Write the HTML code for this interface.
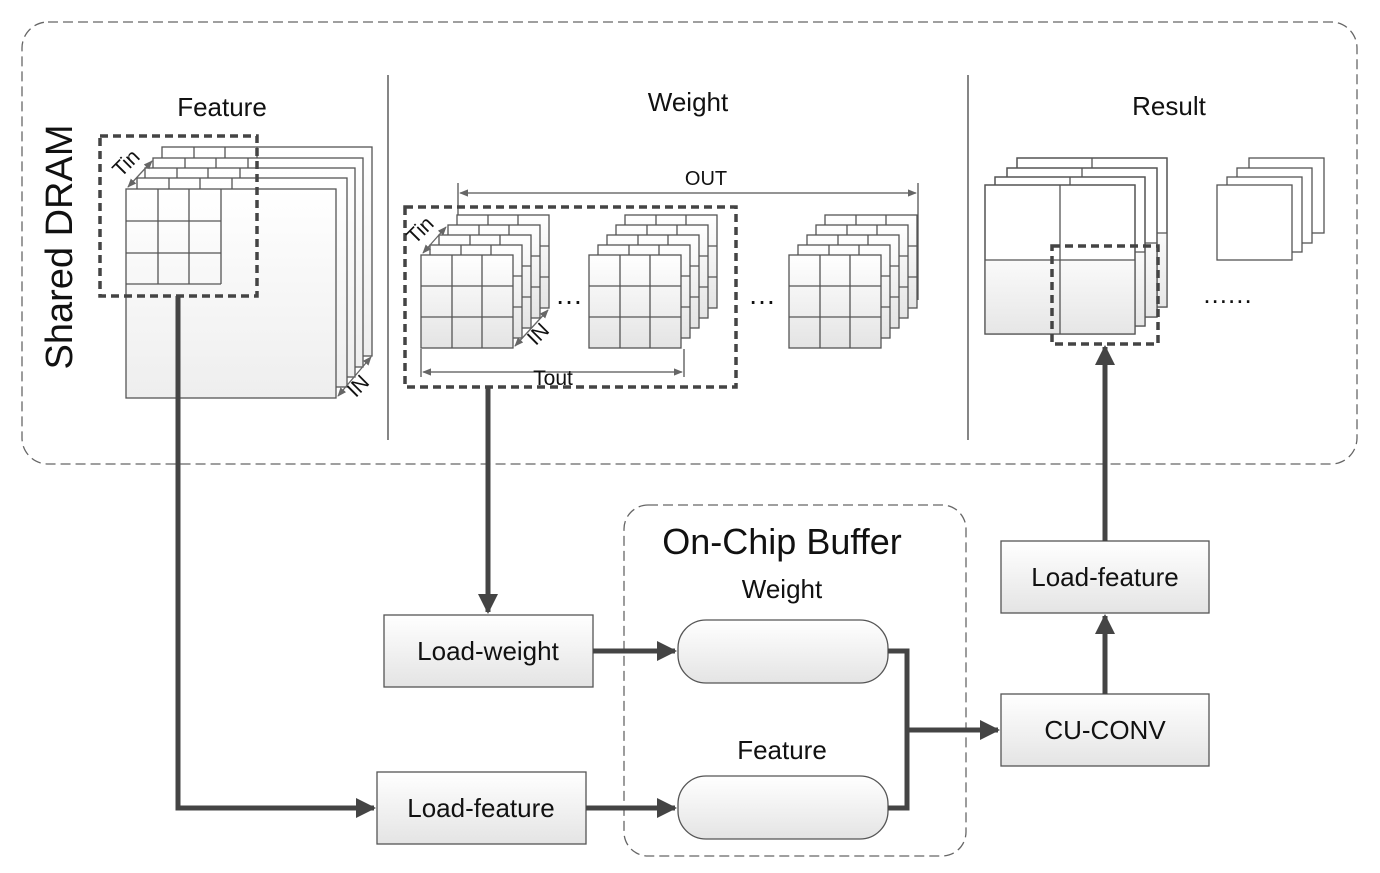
<!DOCTYPE html>
<html><head><meta charset="utf-8"><style>
html,body{margin:0;padding:0;background:#fff;}
svg{display:block;}
text{font-family:"Liberation Sans",sans-serif;fill:#111;}
</style></head><body>
<svg width="1380" height="873" viewBox="0 0 1380 873" xmlns="http://www.w3.org/2000/svg">
<defs>
<linearGradient id="g" x1="0" y1="0" x2="0" y2="1"><stop offset="0" stop-color="#fff"/><stop offset="1" stop-color="#e4e4e4"/></linearGradient>
<linearGradient id="gf" x1="0" y1="0" x2="0" y2="1"><stop offset="0" stop-color="#fff"/><stop offset="1" stop-color="#eeeeee"/></linearGradient>
<linearGradient id="g2" x1="0" y1="0" x2="0" y2="1"><stop offset="0" stop-color="#fafafa"/><stop offset="1" stop-color="#e6e6e6"/></linearGradient>
<marker id="ah" viewBox="0 0 10 10" refX="9" refY="5" markerWidth="4" markerHeight="4" orient="auto"><path d="M0,0L10,5L0,10z" fill="#444"/></marker>
<marker id="sa" viewBox="0 0 10 10" refX="9" refY="5" markerWidth="7" markerHeight="7" orient="auto-start-reverse"><path d="M0,1L10,5L0,9z" fill="#666"/></marker>
<g id="fl"><rect x="0" y="0" width="210" height="209" fill="url(#gf)" stroke="#555" stroke-width="1.3"/>
<path d="M0,32H95M0,64H95M0,95H95M32,0V95M63,0V95M95,0V95" stroke="#555" stroke-width="1.3" fill="none"/></g>
<g id="wl"><rect x="0" y="0" width="92" height="93" fill="url(#g)" stroke="#555" stroke-width="1.3"/>
<path d="M0,31H92M0,62H92M31,0V93M61,0V93" stroke="#555" stroke-width="1.3" fill="none"/></g>
<g id="ws"><use href="#wl" x="36" y="-40"/><use href="#wl" x="27" y="-30"/><use href="#wl" x="18" y="-20"/><use href="#wl" x="9" y="-10"/><use href="#wl" x="0" y="0"/></g>
<g id="rl"><rect x="0" y="0" width="150" height="149" fill="#fff" stroke="#555" stroke-width="1.3"/>
<rect x="0" y="75" width="150" height="74" fill="url(#g2)" stroke="none"/>
<rect x="0" y="0" width="150" height="149" fill="none" stroke="#555" stroke-width="1.3"/>
<path d="M0,75H150M75,0V149" stroke="#555" stroke-width="1.3"/></g>
<g id="sl"><rect x="0" y="0" width="75" height="75" fill="#fff" stroke="#555" stroke-width="1.3"/></g>
</defs>

<!-- Shared DRAM -->
<rect x="22" y="22" width="1335" height="442" rx="26" fill="none" stroke="#666" stroke-width="1.3" stroke-dasharray="10,5"/>
<line x1="388" y1="75" x2="388" y2="440" stroke="#444" stroke-width="1.3"/>
<line x1="968" y1="75" x2="968" y2="440" stroke="#444" stroke-width="1.3"/>
<text x="62" y="247" font-size="38" text-anchor="middle" transform="rotate(-90 62 247)" dominant-baseline="middle">Shared DRAM</text>

<!-- Feature -->
<text x="222" y="116" font-size="26" text-anchor="middle">Feature</text>
<use href="#fl" x="162" y="147"/><use href="#fl" x="153" y="158"/><use href="#fl" x="145" y="168"/><use href="#fl" x="137" y="178"/><use href="#fl" x="126" y="189"/>
<rect x="100" y="136" width="157" height="160" fill="none" stroke="#444" stroke-width="3.5" stroke-dasharray="8,5"/>
<line x1="128" y1="187" x2="152" y2="161" stroke="#666" stroke-width="1.3" marker-start="url(#sa)" marker-end="url(#sa)"/>
<text x="131" y="168" font-size="21" text-anchor="middle" transform="rotate(-45 131 168)">Tin</text>
<line x1="338" y1="396" x2="371" y2="357" stroke="#666" stroke-width="1.3" marker-start="url(#sa)" marker-end="url(#sa)"/>
<text x="363" y="391" font-size="21" text-anchor="middle" transform="rotate(-45 363 391)">IN</text>

<!-- Weight -->
<text x="688" y="111" font-size="26" text-anchor="middle">Weight</text>
<line x1="458" y1="183" x2="458" y2="215" stroke="#555" stroke-width="1.3"/>
<line x1="918" y1="183" x2="918" y2="300" stroke="#555" stroke-width="1.3"/>
<line x1="460" y1="193" x2="916" y2="193" stroke="#555" stroke-width="1.3" marker-start="url(#sa)" marker-end="url(#sa)"/>
<text x="706" y="185" font-size="20" text-anchor="middle">OUT</text>
<use href="#ws" x="421" y="255"/>
<use href="#ws" x="589" y="255"/>
<use href="#ws" x="789" y="255"/>
<text x="569" y="304" font-size="28" text-anchor="middle">…</text>
<text x="762" y="304" font-size="28" text-anchor="middle">…</text>
<rect x="405" y="207" width="331" height="180" fill="none" stroke="#444" stroke-width="3.5" stroke-dasharray="8,5"/>
<line x1="421" y1="349" x2="421" y2="377" stroke="#555" stroke-width="1.3"/>
<line x1="684" y1="349" x2="684" y2="377" stroke="#555" stroke-width="1.3"/>
<line x1="423" y1="372" x2="682" y2="372" stroke="#555" stroke-width="1.3" marker-start="url(#sa)" marker-end="url(#sa)"/>
<text x="553" y="385" font-size="21" text-anchor="middle">Tout</text>
<line x1="423" y1="253" x2="446" y2="227" stroke="#666" stroke-width="1.3" marker-start="url(#sa)" marker-end="url(#sa)"/>
<text x="425" y="235" font-size="21" text-anchor="middle" transform="rotate(-45 425 235)">Tin</text>
<line x1="515" y1="346" x2="548" y2="310" stroke="#666" stroke-width="1.3" marker-start="url(#sa)" marker-end="url(#sa)"/>
<text x="543" y="339" font-size="21" text-anchor="middle" transform="rotate(-45 543 339)">IN</text>

<!-- Result -->
<text x="1169" y="115" font-size="26" text-anchor="middle">Result</text>
<use href="#rl" x="1017" y="158"/><use href="#rl" x="1007" y="168"/><use href="#rl" x="995" y="177"/><use href="#rl" x="985" y="185"/>
<rect x="1052" y="246" width="106" height="98" fill="none" stroke="#444" stroke-width="3.5" stroke-dasharray="8,5"/>
<use href="#sl" x="1249" y="158"/><use href="#sl" x="1237" y="168"/><use href="#sl" x="1227" y="177"/><use href="#sl" x="1217" y="185"/>
<text x="1228" y="303" font-size="26" text-anchor="middle" letter-spacing="1">......</text>

<!-- On-chip buffer -->
<rect x="624" y="505" width="342" height="351" rx="24" fill="none" stroke="#666" stroke-width="1.3" stroke-dasharray="10,5"/>
<text x="782" y="554" font-size="36" text-anchor="middle">On-Chip Buffer</text>
<text x="782" y="598" font-size="26" text-anchor="middle">Weight</text>
<rect x="678" y="620" width="210" height="63" rx="28" fill="url(#g)" stroke="#555" stroke-width="1.3"/>
<text x="782" y="759" font-size="26" text-anchor="middle">Feature</text>
<rect x="678" y="776" width="210" height="63" rx="28" fill="url(#g)" stroke="#555" stroke-width="1.3"/>

<!-- Boxes -->
<g stroke="#555" stroke-width="1.3" fill="url(#g)">
<rect x="384" y="615" width="209" height="72"/>
<rect x="377" y="772" width="209" height="72"/>
<rect x="1001" y="694" width="208" height="72"/>
<rect x="1001" y="541" width="208" height="72"/>
</g>
<g font-size="26" text-anchor="middle">
<text x="488" y="660">Load-weight</text>
<text x="481" y="817">Load-feature</text>
<text x="1105" y="739">CU-CONV</text>
<text x="1105" y="586">Load-feature</text>
</g>

<!-- Connectors -->
<g stroke="#444" stroke-width="5" fill="none" marker-end="url(#ah)">
<path d="M178,296V808H374"/>
<path d="M488,388V612"/>
<path d="M593,651H675"/>
<path d="M586,808H675"/>
<path d="M907,730H998"/>
<path d="M1105,694V616"/>
<path d="M1105,541V347"/>
</g>
<path d="M888,651H907V808H888" stroke="#444" stroke-width="5" fill="none"/>
</svg>
</body></html>
